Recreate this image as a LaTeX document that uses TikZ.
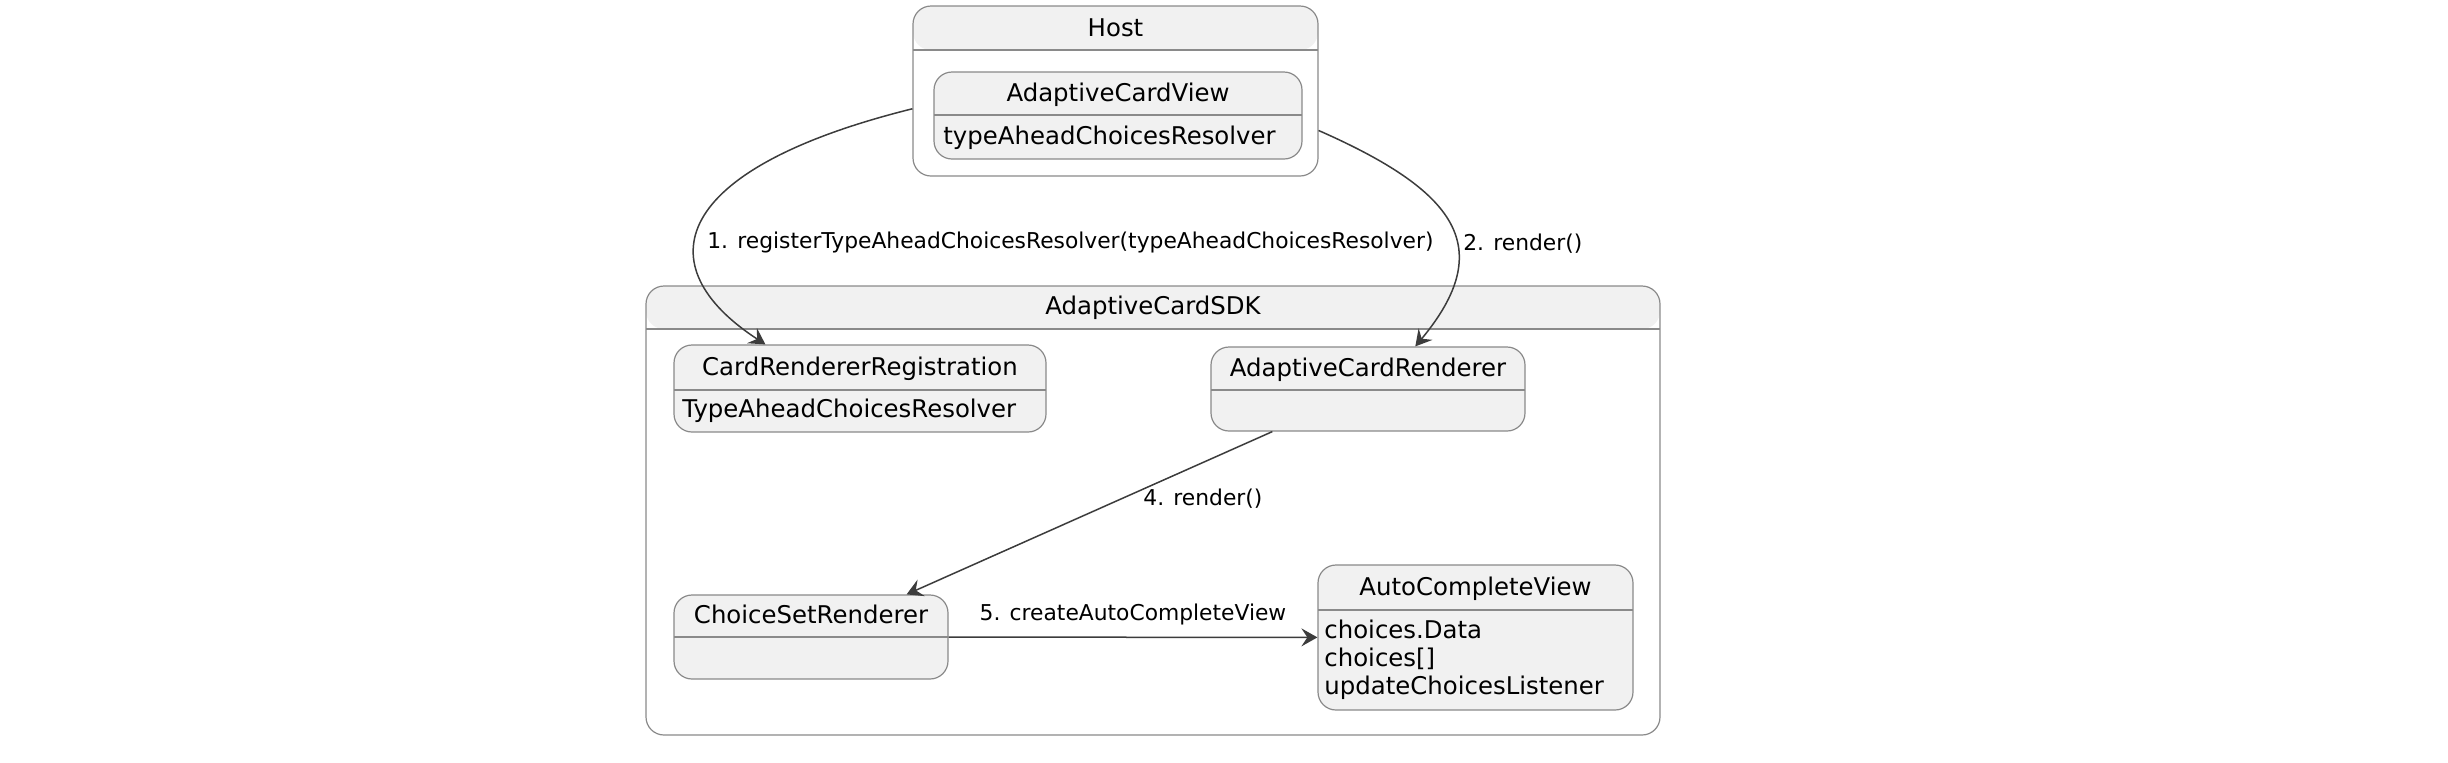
\documentclass[tikz,border=0pt]{standalone}
\usepackage{fontspec}
\setmainfont{DejaVu Sans}
\usetikzlibrary{arrows.meta}

\definecolor{stfill}{HTML}{F1F1F1}
\definecolor{stline}{HTML}{8A8A8A}
\definecolor{arline}{HTML}{3C3C3C}

\newcommand{\titlefont}{\fontsize{12.2}{14}\selectfont}
\newcommand{\labelfont}{\fontsize{10.9}{13}\selectfont}

\begin{document}
\begin{tikzpicture}[x=0.5pt,y=-0.5pt,
    box/.style={draw=stline,line width=0.6pt,rounded corners=9pt,inner sep=0pt},
    compartment/.style={path picture={
        \fill[stfill] (path picture bounding box.north west) rectangle ([yshift=-#1]path picture bounding box.north east);
        \draw[stline,line width=0.6pt] ([yshift=-#1]path picture bounding box.north west) -- ([yshift=-#1]path picture bounding box.north east);}},
    txt/.style={font=\titlefont,inner sep=0pt,text height=9pt,text depth=2.5pt},
    lbl/.style={font=\labelfont,inner sep=1pt,text height=8pt,text depth=2.3pt},
    arr/.style={draw=arline,line width=0.75pt,-{Stealth[length=8pt,width=9pt,inset=3pt]}}]
  \useasboundingbox (0,0) rectangle (2448,762);

  % containers
  \node[box,fill=white,compartment=22pt,minimum width=202.5pt,minimum height=85pt] (host) at (1115.5,91) {};
  \node[txt] (hosttitle) at (1115.5,30) {Host};
  \node[box,fill=white,compartment=21.5pt,minimum width=507pt,minimum height=224.5pt] (sdk) at (1153,510.5) {};
  \node[txt] (sdktitle) at (1153,307.5) {AdaptiveCardSDK};

  % states
  \node[box,fill=stfill,compartment=21.5pt,minimum width=184pt,minimum height=43.5pt] (acview) at (1118,115.5) {};
  \node[txt] (acviewtitle) at (1118,94.5) {AdaptiveCardView};
  \node[txt,anchor=west] (acviewbody) at (943,138) {typeAheadChoicesResolver};

  \node[box,fill=stfill,compartment=22.5pt,minimum width=186pt,minimum height=43.5pt] (crr) at (860,388.5) {};
  \node[txt] (crrtitle) at (860,368.5) {CardRendererRegistration};
  \node[txt,anchor=west] (crrbody) at (682,411) {TypeAheadChoicesResolver};

  \node[box,fill=stfill,compartment=21.5pt,minimum width=157pt,minimum height=42pt] (acr) at (1368,389) {};
  \node[txt] (acrtitle) at (1368,369.5) {AdaptiveCardRenderer};

  \node[box,fill=stfill,compartment=21pt,minimum width=137pt,minimum height=42pt] (csr) at (811,637) {};
  \node[txt] (csrtitle) at (811,617) {ChoiceSetRenderer};

  \node[box,fill=stfill,compartment=22.5pt,minimum width=157.5pt,minimum height=72.5pt] (acv) at (1475.5,637.5) {};
  \node[txt] (acvtitle) at (1475.5,588.5) {AutoCompleteView};
  \node[font=\titlefont,inner sep=0pt,anchor=west,align=left] (acvbody) at (1324,660) {choices.Data\\choices[]\\updateChoicesListener};

  % calls
  \draw[arr] (host.185) .. controls (670,169) and (645,266) .. (crr.155)
    node[lbl,pos=0.59,anchor=west,xshift=4.5pt] {1. registerTypeAheadChoicesResolver(typeAheadChoicesResolver)};
  \draw[arr] (host.349) .. controls (1456,191) and (1498,247) .. (acr.42)
    node[lbl,pos=0.6,anchor=west,xshift=2pt] {2. render()};
  \draw[arr] (acr) -- (csr) node[lbl,pos=0.42,anchor=west,xshift=11pt] {4. render()};
  \draw[arr] (csr) -- (acv) node[lbl,pos=0.5,above=4.5pt] {5. createAutoCompleteView};
\end{tikzpicture}
\end{document}
